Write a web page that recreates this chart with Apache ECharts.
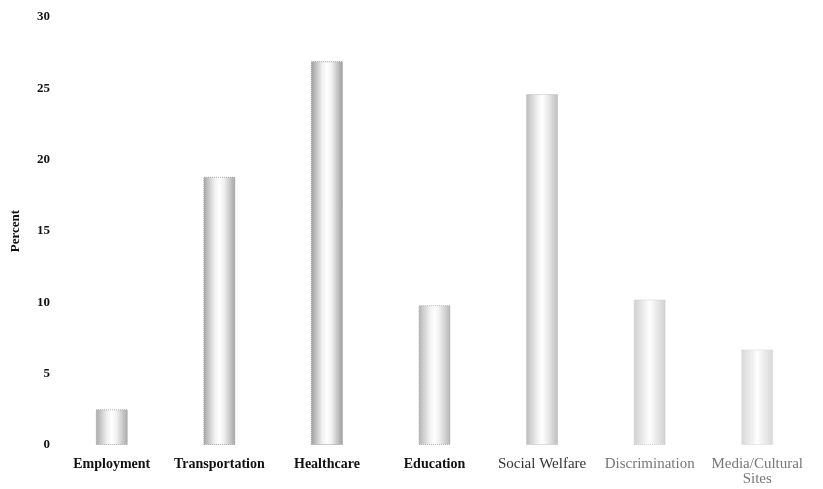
<!DOCTYPE html>
<html>
<head>
<meta charset="utf-8">
<script src="https://cdn.jsdelivr.net/npm/echarts@6/dist/echarts.min.js"></script>
<style>
  html, body { margin: 0; padding: 0; background: #fff; }
  #chart { width: 823px; height: 489px; }
</style>
</head>
<body>
<div id="chart"></div>
<script>
var categories = ['Employment', 'Transportation', 'Healthcare', 'Education', 'Social Welfare', 'Discrimination', 'Media/Cultural\nSites']
var percents = [2.5, 18.8, 26.9, 9.8, 24.6, 10.2, 6.7]
var yTicks = [0, 5, 10, 15, 20, 25, 30]

// edge shade of each bar, the scan gets paler to the right
var edgeColors = ['#a8a8a8', '#a4a4a4', '#9c9c9c', '#b4b4b4', '#bcbcbc', '#cfcfcf', '#d8d8d8']

var chart = echarts.init(document.getElementById('chart'))

var barData = percents.map(function (v, i) {
  return {
    value: v,
    itemStyle: {
      color: {
        type: 'linear', x: 0, y: 0, x2: 1, y2: 0,
        colorStops: [
          { offset: 0, color: edgeColors[i] },
          { offset: 0.35, color: '#f0f0f0' },
          { offset: 0.5, color: '#ffffff' },
          { offset: 0.65, color: '#f0f0f0' },
          { offset: 1, color: edgeColors[i] }
        ]
      },
      borderColor: edgeColors[i],
      borderWidth: 1,
      borderType: 'dotted'
    }
  }
})

var option = {
  animation: false,
  backgroundColor: '#fff',
  grid: { left: 58, right: 12, top: 17, bottom: 44 },
  xAxis: {
    type: 'category',
    data: categories,
    axisLine: { show: false },
    axisTick: { show: false },
    axisLabel: {
      interval: 0,
      margin: 12,
      formatter: function (value, index) {
        var style = index < 4 ? 'b' : (index === 4 ? 'm' : 'r')
        return value.split('\n').map(function (s) { return '{' + style + '|' + s + '}' }).join('\n')
      },
      rich: {
        b: { fontFamily: 'Liberation Serif', fontWeight: 'bold', fontSize: 14, lineHeight: 15, color: '#111' },
        m: { fontFamily: 'Liberation Serif', fontSize: 15, lineHeight: 15, color: '#333' },
        r: { fontFamily: 'Liberation Serif', fontSize: 15, lineHeight: 15, color: '#777' }
      }
    }
  },
  yAxis: {
    type: 'value',
    min: yTicks[0],
    max: yTicks[yTicks.length - 1],
    interval: 5,
    name: 'Percent',
    nameLocation: 'middle',
    nameGap: 36,
    nameRotate: 90,
    nameTextStyle: { fontFamily: 'Liberation Serif', fontWeight: 'bold', fontSize: 13, color: '#111' },
    axisLine: { show: false },
    axisTick: { show: false },
    splitLine: { show: false },
    axisLabel: {
      margin: 8,
      fontFamily: 'Liberation Serif',
      fontWeight: 'bold',
      fontSize: 13,
      color: '#111'
    }
  },
  series: [
    {
      type: 'bar',
      barWidth: 32,
      data: barData
    }
  ]
}

chart.setOption(option)
</script>
</body>
</html>
